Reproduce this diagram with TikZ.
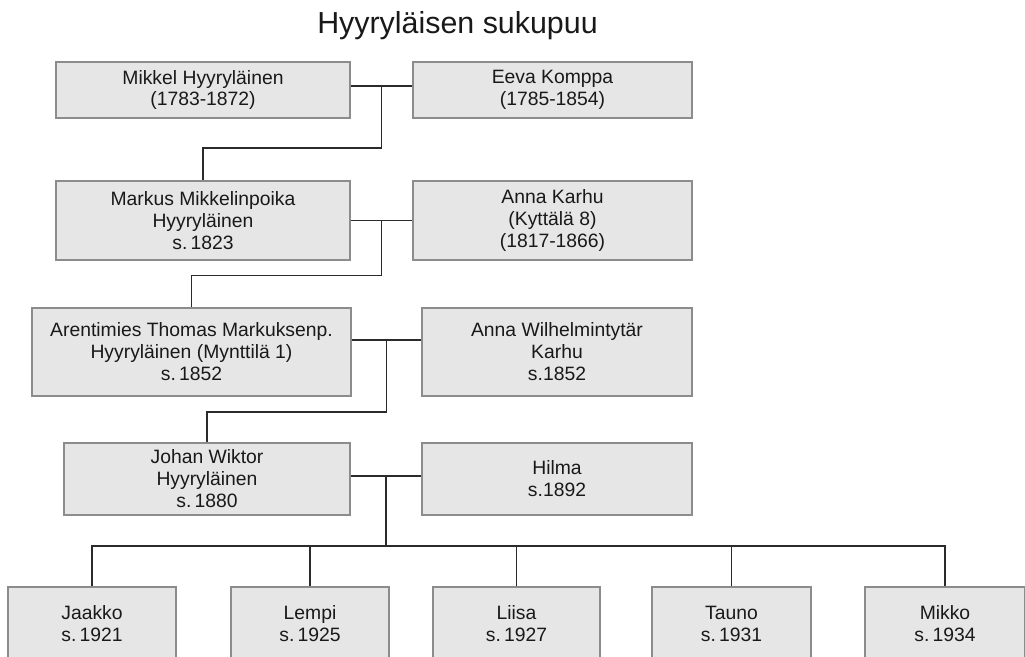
\documentclass[tikz,border=0pt]{standalone}
\usepackage{fontspec}
\setmainfont{Liberation Sans}
\usepackage{xcolor}
\usepackage{tikz}
\usetikzlibrary{calc}

\definecolor{boxfill}{HTML}{E6E6E6}
\definecolor{boxline}{HTML}{8C8C8C}
\definecolor{linkline}{HTML}{2B2B2B}

\begin{document}
\begin{tikzpicture}[
        person/.style={draw=boxline, line width=0.8pt, fill=boxfill, align=center,
            inner sep=0pt, text=black!90, font=\fontsize{11}{12.5}\selectfont},
        link/.style={draw=linkline, line width=0.9pt}
    ]
        \clip (0,0) rectangle (20.5,-13.12);
        % Title
        \node[anchor=base, font=\fontsize{17.3}{20}\selectfont, text=black!90] (title) at (9.15,-0.66) {Hyyryläisen sukupuu};

        % Generations
        \node[person, minimum width=5.88cm, minimum height=1.12cm] (mikkel) at (4.06,-1.80) {Mikkel Hyyryläinen\\(1783-1872)};
        \node[person, minimum width=5.58cm, minimum height=1.12cm] (eeva) at (11.05,-1.80) {Eeva Komppa\\(1785-1854)};
        \node[person, minimum width=5.88cm, minimum height=1.58cm] (markus) at (4.06,-4.41) {Markus Mikkelinpoika\\Hyyryläinen\\s.\,1823};
        \node[person, minimum width=5.58cm, minimum height=1.58cm] (annak) at (11.05,-4.41) {Anna Karhu\\(Kyttälä 8)\\(1817-1866)};
        \node[person, minimum width=6.38cm, minimum height=1.76cm] (tom) at (3.83,-7.04) {Arentimies Thomas Markuksenp.\\Hyyryläinen (Mynttilä 1)\\s.\,1852};
        \node[person, minimum width=5.40cm, minimum height=1.76cm] (annaw) at (11.14,-7.04) {Anna Wilhelmintytär\\Karhu\\s.1852};
        \node[person, minimum width=5.72cm, minimum height=1.44cm] (johan) at (4.14,-9.58) {Johan Wiktor\\Hyyryläinen\\s.\,1880};
        \node[person, minimum width=5.40cm, minimum height=1.44cm] (hilma) at (11.14,-9.58) {Hilma\\s.1892};

        % Children
        \node[person, minimum width=3.36cm, minimum height=1.46cm] (jaakko) at (1.84,-12.47) {Jaakko\\s.\,1921};
        \node[person, minimum width=3.16cm, minimum height=1.46cm] (lempi) at (6.20,-12.47) {Lempi\\s.\,1925};
        \node[person, minimum width=3.34cm, minimum height=1.46cm] (liisa) at (10.33,-12.47) {Liisa\\s.\,1927};
        \node[person, minimum width=3.18cm, minimum height=1.46cm] (tauno) at (14.63,-12.47) {Tauno\\s.\,1931};
        \node[person, minimum width=3.20cm, minimum height=1.46cm] (mikko) at (18.90,-12.47) {Mikko\\s.\,1934};

        % Couples
        \draw[link] ([yshift=0.08cm]mikkel.east) -- ([yshift=0.08cm]eeva.west);
        \draw[link] (markus.east) -- (annak.west);
        \draw[link] ([yshift=0.24cm]tom.east) -- ([yshift=0.24cm]annaw.west);
        \draw[link] ([yshift=0.06cm]johan.east) -- ([yshift=0.06cm]hilma.west);
        \coordinate (c1) at ($([yshift=0.08cm]mikkel.east)!0.5!([yshift=0.08cm]eeva.west)$);
        \coordinate (c2) at ($(markus.east)!0.5!(annak.west)$);
        \coordinate (c3) at ($([yshift=0.24cm]tom.east)!0.5!([yshift=0.24cm]annaw.west)$);
        \coordinate (c4) at ($([yshift=0.06cm]johan.east)!0.5!([yshift=0.06cm]hilma.west)$);

        % Descent
        \draw[link] (c1) -- ++(0,-1.24) -| (markus.north);
        \draw[link] (c2) -- ++(0,-1.10) -| (tom.north);
        \draw[link] (c3) -- ++(0,-1.44) -| (johan.north);
        \coordinate (bar) at ($(c4)+(0,-1.40)$);
        \draw[link] (c4) -- (bar);
        \foreach \k in {jaakko,lempi,liisa,tauno,mikko}
            \draw[link] (\k.north) |- (bar);
    \end{tikzpicture}
\end{document}
